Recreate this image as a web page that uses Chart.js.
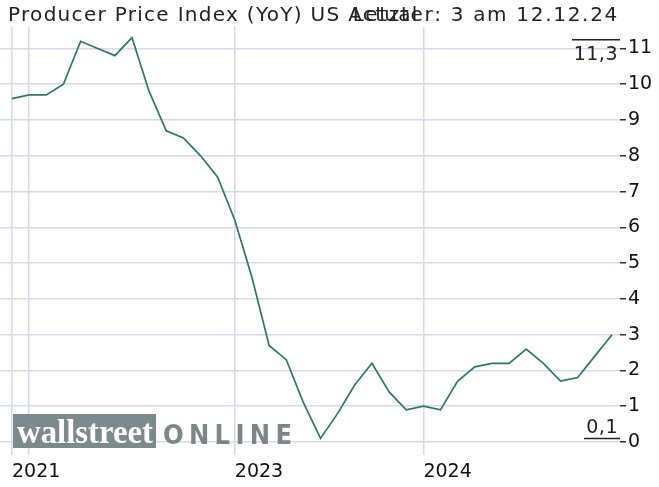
<!DOCTYPE html>
<html><head><meta charset="utf-8">
<script src="https://cdn.jsdelivr.net/npm/chart.js@4.4.1/dist/chart.umd.min.js"></script>
<style>html,body{margin:0;padding:0;background:#fff}#wrap{width:659px;height:487px;position:relative}</style>
</head><body><div id="wrap"><canvas id="c" width="659" height="487"></canvas></div>
<script>
const titleLeft = 'Producer Price Index (YoY) US Actual';
const titleRight = 'Letzter: 3 am 12.12.24';
const ppiYoY = [9.6, 9.7, 9.7, 10.0, 11.2, 11.0, 10.8, 11.3, 9.8, 8.7, 8.5, 8.0, 7.4,
  6.2, 4.6, 2.7, 2.3, 1.1, 0.1, 0.8, 1.6, 2.2, 1.4, 0.9, 1.0,
  0.9, 1.7, 2.1, 2.2, 2.2, 2.6, 2.2, 1.7, 1.8, 2.4, 3.0];
const xTickIndex = [0, 1, 13, 24];
const xTickLabels = ['2021', '', '2023', '2024'];
const yTickValues = [0, 1, 2, 3, 4, 5, 6, 7, 8, 9, 10, 11];
const maxLabel = '11,3';
const minLabel = '0,1';

const FONT = '"DejaVu Sans", Verdana, sans-serif';
const points = ppiYoY.map((v, i) => ({x: i, y: v}));

const extras = {
  id: 'extras',
  beforeDatasetsDraw(chart) {
    const ctx = chart.ctx;
    ctx.save();
    // logo
    ctx.fillStyle = '#7b8b8b';
    ctx.fillRect(13, 414, 143, 34);
    ctx.font = 'bold 34px "Liberation Serif", serif';
    ctx.fillStyle = '#ffffff';
    ctx.textBaseline = 'alphabetic';
    const w = ctx.measureText('wallstreet').width;
    ctx.save();
    ctx.translate(17, 443);
    ctx.scale(136 / w, 1);
    ctx.fillText('wallstreet', 0, 0);
    ctx.restore();
    ctx.font = 'bold 27px ' + FONT;
    ctx.fillStyle = '#7a8787';
    const sx = 0.9;
    const letters = 'ONLINE'.split('');
    const tw = letters.reduce((s, l) => s + ctx.measureText(l).width * sx, 0);
    const gap = (129 - tw) / (letters.length - 1);
    let x = 163;
    letters.forEach(l => {
      ctx.save(); ctx.translate(x, 444); ctx.scale(sx, 1); ctx.fillText(l, 0, 0); ctx.restore();
      x += ctx.measureText(l).width * sx + gap;
    });
    ctx.restore();
  },
  afterDraw(chart) {
    const ctx = chart.ctx;
    const ya = chart.scales.y;
    const right = chart.chartArea.right;
    ctx.save();
    ctx.fillStyle = '#222';
    ctx.font = '20px ' + FONT;
    ctx.textBaseline = 'alphabetic';
    ctx.letterSpacing = '1.3px';
    ctx.textAlign = 'left';
    ctx.fillText(titleLeft, 8, 21);
    ctx.letterSpacing = '1.7px';
    ctx.textAlign = 'right';
    ctx.fillText(titleRight, 619, 21);
    ctx.font = '19px ' + FONT;
    ctx.letterSpacing = '0.5px';
    // max / min markers
    const maxV = Math.max(...ppiYoY), minV = Math.min(...ppiYoY);
    ctx.strokeStyle = '#222';
    ctx.lineWidth = 1.5;
    const yMax = ya.getPixelForValue(maxV) + 2;
    ctx.beginPath(); ctx.moveTo(572, yMax); ctx.lineTo(right, yMax); ctx.stroke();
    ctx.textBaseline = 'top';
    ctx.fillText(maxLabel, 618, yMax + 6);
    const yMin = ya.getPixelForValue(minV);
    ctx.beginPath(); ctx.moveTo(584, yMin); ctx.lineTo(right, yMin); ctx.stroke();
    ctx.textBaseline = 'alphabetic';
    ctx.fillText(minLabel, 618, yMin - 5);
    ctx.restore();
  }
};

new Chart(document.getElementById('c'), {
  type: 'line',
  data: {
    datasets: [{
      data: points,
      borderColor: '#2b7a63',
      borderWidth: 1.7,
      pointRadius: 0,
      tension: 0,
      fill: false
    }]
  },
  options: {
    responsive: false,
    animation: false,
    events: [],
    layout: {padding: {top: 27, left: 0, right: 0, bottom: 0}},
    plugins: {legend: {display: false}, tooltip: {enabled: false}, title: {display: false}},
    scales: {
      x: {
        type: 'linear',
        min: -0.70,
        max: 35.47,
        afterFit(s) { s.height = 45; },
        afterBuildTicks(s) { s.ticks = xTickIndex.map(v => ({value: v})); },
        grid: {color: '#d3d9ef', lineWidth: 1.5, tickLength: 13, tickColor: '#d3d9ef', drawTicks: true},
        border: {display: false},
        ticks: {
          align: 'start',
          padding: 6,
          maxRotation: 0,
          autoSkip: false,
          color: '#111',
          font: {family: FONT, size: 19},
          callback: (v) => { const k = xTickIndex.indexOf(v); return k >= 0 ? xTickLabels[k] : ''; }
        }
      },
      y: {
        position: 'right',
        min: 0,
        max: 11.6,
        afterFit(s) { s.width = 39; },
        afterBuildTicks(s) { s.ticks = yTickValues.map(v => ({value: v})); },
        grid: {color: '#d3d9ef', lineWidth: 1.5, tickLength: 6, tickColor: '#333'},
        border: {display: false},
        ticks: {
          padding: 2,
          color: '#111',
          font: {family: FONT, size: 19},
          callback: (v) => String(v)
        }
      }
    }
  },
  plugins: [extras]
});
</script>
</body></html>
